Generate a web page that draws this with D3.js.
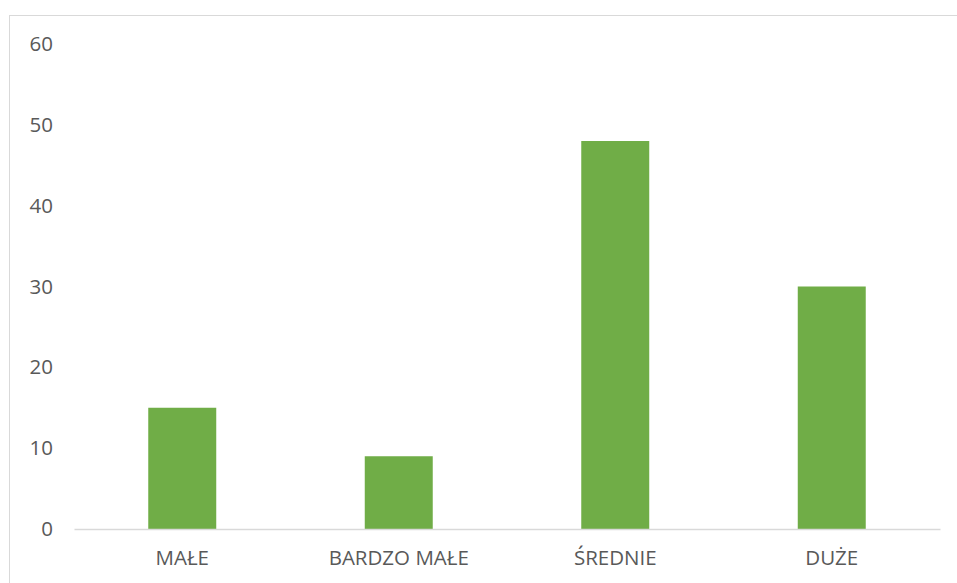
<!DOCTYPE html>
<html>
<head>
<meta charset="utf-8">
<script src="https://cdn.jsdelivr.net/npm/d3@7"></script>
<style>
  html, body { margin: 0; padding: 0; background: #fff; }
  svg { display: block; }
</style>
</head>
<body>
<svg id="chart" width="957" height="583"></svg>
<script>
// Category names and their values
const categories = ["MAŁE", "BARDZO MAŁE", "ŚREDNIE", "DUŻE"];
const values = [15, 9, 48, 30];
const yTicks = [0, 10, 20, 30, 40, 50, 60];

const W = 957, H = 583;
const margin = { left: 74, right: 17, top: 44, bottom: 54 };
const textColor = "#595959";
const fontFamily = "'Open Sans', 'Segoe UI', sans-serif";
const fontSize = 20.5;

const svg = d3.select("#chart");

// Chart frame (only top and left edges fall inside the window)
svg.append("rect")
  .attr("x", 9.5).attr("y", 15.5)
  .attr("width", W + 20).attr("height", H + 20)
  .attr("fill", "#fff")
  .attr("stroke", "#d9d9d9")
  .attr("stroke-width", 1);

const x = d3.scaleBand()
  .domain(categories)
  .range([margin.left, W - margin.right])
  .paddingInner(0.686)
  .paddingOuter(0.343);

const y = d3.scaleLinear()
  .domain([0, 60])
  .range([H - margin.bottom, margin.top]);

// Bars
svg.append("g")
  .selectAll("rect")
  .data(categories.map((c, i) => ({ c, v: values[i] })))
  .join("rect")
  .attr("x", d => x(d.c))
  .attr("width", x.bandwidth())
  .attr("y", d => y(d.v))
  .attr("height", d => y(0) - y(d.v))
  .attr("fill", "#70ad47");

// Y axis: labels only
const yAxis = d3.axisLeft(y).tickValues(yTicks).tickSize(0).tickPadding(21);
const gy = svg.append("g")
  .attr("transform", `translate(${margin.left},0)`)
  .call(yAxis);
gy.select(".domain").remove();
gy.selectAll("text")
  .attr("fill", textColor)
  .style("font-family", fontFamily)
  .style("font-size", fontSize + "px");

// X axis: baseline and category labels
const xAxis = d3.axisBottom(x).tickSize(0).tickPadding(21);
const gx = svg.append("g")
  .attr("transform", `translate(0,${y(0)})`)
  .call(xAxis);
gx.select(".domain")
  .attr("stroke", "#d9d9d9")
  .attr("stroke-width", 1.3);
gx.selectAll("text")
  .attr("fill", textColor)
  .style("font-family", fontFamily)
  .style("font-size", fontSize + "px");
</script>
</body>
</html>
